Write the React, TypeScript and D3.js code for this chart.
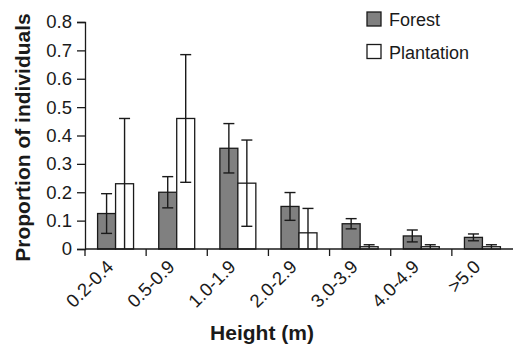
import { useEffect, useRef } from "react";
import * as d3 from "d3";

const categories = ["0.2-0.4", "0.5-0.9", "1.0-1.9", "2.0-2.9", "3.0-3.9", "4.0-4.9", ">5.0"];
const seriesNames = ["Forest", "Plantation"];
const forestValues = [0.125, 0.2, 0.355, 0.15, 0.089, 0.046, 0.041];
const forestErrors = [0.07, 0.055, 0.087, 0.049, 0.018, 0.021, 0.012];
const plantationValues = [0.23, 0.46, 0.232, 0.057, 0.008, 0.008, 0.008];
const plantationErrors = [0.23, 0.225, 0.152, 0.086, 0.007, 0.007, 0.007];
const yTicks = [0, 0.1, 0.2, 0.3, 0.4, 0.5, 0.6, 0.7, 0.8];

const W = 514;
const H = 344;
const FONT = "'Liberation Sans', Arial, sans-serif";

export default function App() {
  const ref = useRef<SVGSVGElement | null>(null);

  useEffect(() => {
    const svg = d3.select(ref.current);
    svg.selectAll("*").remove();

    const x0 = 85;
    const x1 = 513;
    const yTop = 22;
    const yBottom = 249;

    const x = d3.scaleBand().domain(categories).range([x0, x1]).padding(0);
    const xs = d3
      .scaleBand()
      .domain(seriesNames)
      .range([0, x.bandwidth()])
      .paddingInner(0)
      .paddingOuter(0.7);
    const y = d3.scaleLinear().domain([0, 0.8]).range([yBottom, yTop]);

    const color: Record<string, string> = { Forest: "#808080", Plantation: "#ffffff" };
    const rows = categories.map((c, i) => ({
      cat: c,
      bars: [
        { s: "Forest", v: forestValues[i], e: forestErrors[i] },
        { s: "Plantation", v: plantationValues[i], e: plantationErrors[i] },
      ],
    }));

    const g = svg.append("g");

    // bars
    const groups = g
      .selectAll(".grp")
      .data(rows)
      .enter()
      .append("g")
      .attr("transform", (d) => `translate(${x(d.cat)},0)`);

    groups
      .selectAll("rect")
      .data((d) => d.bars)
      .enter()
      .append("rect")
      .attr("x", (d) => xs(d.s)!)
      .attr("y", (d) => y(d.v))
      .attr("width", xs.bandwidth())
      .attr("height", (d) => yBottom - y(d.v))
      .attr("fill", (d) => color[d.s])
      .attr("stroke", "#1a1a1a")
      .attr("stroke-width", 1.3);

    // error bars
    const cap = 5.5;
    const err = groups
      .selectAll(".err")
      .data((d) => d.bars)
      .enter()
      .append("g")
      .attr("stroke", "#1a1a1a")
      .attr("stroke-width", 1.4);
    const cx = (d: any) => xs(d.s)! + xs.bandwidth() / 2;
    err
      .append("line")
      .attr("x1", cx)
      .attr("x2", cx)
      .attr("y1", (d) => y(Math.max(0, d.v - d.e)))
      .attr("y2", (d) => y(d.v + d.e));
    err
      .append("line")
      .attr("x1", (d) => cx(d) - cap)
      .attr("x2", (d) => cx(d) + cap)
      .attr("y1", (d) => y(d.v + d.e))
      .attr("y2", (d) => y(d.v + d.e));
    err
      .filter((d) => d.v - d.e > 0.001)
      .append("line")
      .attr("x1", (d) => cx(d) - cap)
      .attr("x2", (d) => cx(d) + cap)
      .attr("y1", (d) => y(d.v - d.e))
      .attr("y2", (d) => y(d.v - d.e));

    // y axis
    const yAxis = g
      .append("g")
      .attr("transform", `translate(${x0},0)`)
      .call(d3.axisLeft(y).tickValues(yTicks).tickSize(8).tickPadding(5).tickFormat((d) => (d === 0 ? "0" : d3.format(".1f")(d as number))));
    yAxis.select(".domain").attr("stroke", "#1a1a1a").attr("stroke-width", 1.3);
    yAxis.selectAll(".tick line").attr("stroke", "#1a1a1a").attr("stroke-width", 1.3);
    yAxis
      .selectAll(".tick text")
      .attr("font-family", FONT)
      .attr("font-size", 18.5)
      .attr("fill", "#1a1a1a");

    // x axis
    const xAxis = g
      .append("g")
      .attr("transform", `translate(0,${yBottom})`);
    xAxis
      .append("line")
      .attr("x1", x0)
      .attr("x2", x1)
      .attr("stroke", "#1a1a1a")
      .attr("stroke-width", 1.3);
    xAxis
      .selectAll(".xt")
      .data(categories)
      .enter()
      .append("line")
      .attr("x1", (d) => x(d)!)
      .attr("x2", (d) => x(d)!)
      .attr("y1", 0)
      .attr("y2", 7)
      .attr("stroke", "#1a1a1a")
      .attr("stroke-width", 1.3);
    xAxis
      .selectAll(".xl")
      .data(categories)
      .enter()
      .append("text")
      .attr("text-anchor", "end")
      .attr("transform", (d) => `translate(${x(d)! + x.bandwidth() / 2 - 1},19) rotate(-45)`)
      .attr("font-family", FONT)
      .attr("font-size", 18.5)
      .attr("fill", "#1a1a1a")
      .text((d) => d);

    // axis titles
    svg
      .append("text")
      .attr("transform", `translate(30,${(12 + 263) / 2}) rotate(-90)`)
      .attr("text-anchor", "middle")
      .attr("font-family", FONT)
      .attr("font-weight", "bold")
      .attr("font-size", 21)
      .attr("fill", "#1a1a1a")
      .text("Proportion of individuals");
    svg
      .append("text")
      .attr("x", 262)
      .attr("y", 340)
      .attr("text-anchor", "middle")
      .attr("font-family", FONT)
      .attr("font-weight", "bold")
      .attr("font-size", 21)
      .attr("fill", "#1a1a1a")
      .text("Height (m)");

    // legend
    const legend = svg
      .selectAll(".legend")
      .data(seriesNames)
      .enter()
      .append("g")
      .attr("transform", (d, i) => `translate(367,${12 + i * 32.5})`);
    legend
      .append("rect")
      .attr("width", 14)
      .attr("height", 14)
      .attr("fill", (d) => color[d])
      .attr("stroke", "#1a1a1a")
      .attr("stroke-width", 1.3);
    legend
      .append("text")
      .attr("x", 22)
      .attr("y", 14)
      .attr("font-family", FONT)
      .attr("font-size", 18)
      .attr("fill", "#1a1a1a")
      .text((d) => d);
  }, []);

  return (
    <svg
      ref={ref}
      width={W}
      height={H}
      style={{ position: "absolute", left: 0, top: 0, background: "#fff" }}
    />
  );
}
